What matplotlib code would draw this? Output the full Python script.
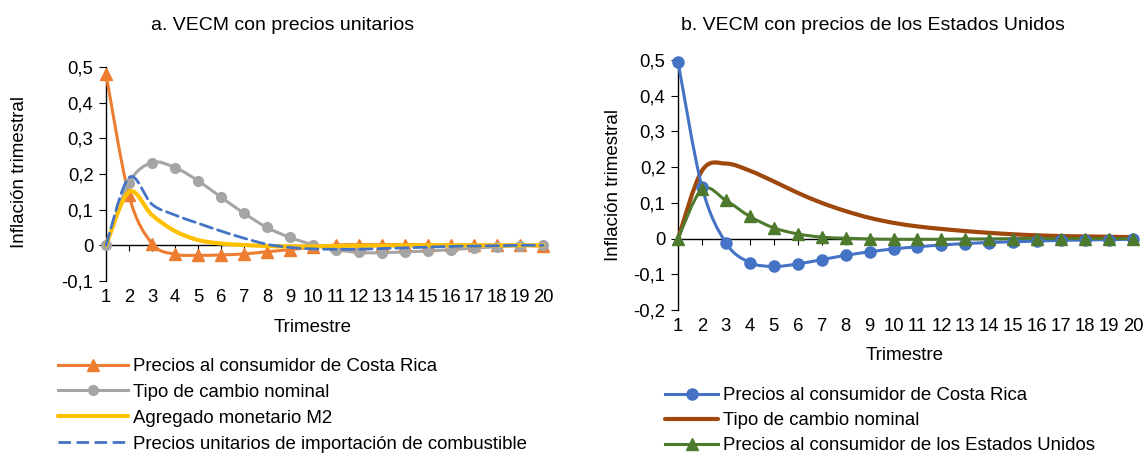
import numpy as np
import matplotlib
matplotlib.use("Agg")
import matplotlib.pyplot as plt
from matplotlib.path import Path
from matplotlib.patches import PathPatch
from matplotlib.lines import Line2D
from matplotlib.ticker import FuncFormatter

plt.rcParams['font.family'] = ['Liberation Sans', 'DejaVu Sans']

trimestres = list(range(1, 21))

# a. VECM con precios unitarios
a_precios_cr = [0.48, 0.14, 0.005, -0.025, -0.028, -0.027, -0.024, -0.018, -0.012, -0.005,
                0.001, 0.002, 0.002, 0.002, 0.002, 0.001, 0.001, 0.0, 0.0, -0.002]
a_tipo_cambio = [0.0, 0.175, 0.232, 0.218, 0.181, 0.135, 0.09, 0.05, 0.022, 0.002,
                 -0.012, -0.02, -0.021, -0.018, -0.016, -0.012, -0.008, -0.004, -0.001, 0.001]
a_m2 = [0.0, 0.15, 0.085, 0.04, 0.015, 0.005, 0.001, -0.002, -0.003, -0.003,
        -0.002, -0.001, -0.001, 0.0, 0.0, 0.0, 0.0, 0.0, 0.0, 0.0]
a_combustible = [0.0, 0.19, 0.115, 0.085, 0.062, 0.04, 0.02, 0.003, -0.006, -0.01,
                 -0.011, -0.011, -0.009, -0.007, -0.005, -0.003, -0.002, -0.001, 0.0, 0.0]

# b. VECM con precios de los Estados Unidos
b_precios_cr = [0.495, 0.145, -0.012, -0.067, -0.078, -0.071, -0.059, -0.047, -0.037, -0.029,
                -0.023, -0.018, -0.014, -0.011, -0.009, -0.007, -0.005, -0.004, -0.003, -0.002]
b_tipo_cambio = [0.0, 0.19, 0.21, 0.19, 0.16, 0.128, 0.1, 0.077, 0.058, 0.044,
                 0.034, 0.027, 0.021, 0.016, 0.012, 0.009, 0.007, 0.006, 0.005, 0.004]
b_precios_eu = [0.0, 0.138, 0.107, 0.062, 0.03, 0.013, 0.004, 0.001, -0.001, -0.002,
                -0.002, -0.002, -0.001, -0.001, 0.0, 0.0, 0.0, 0.0, 0.0, 0.0]

W, H = 1145, 453
FS_TICK = 13.3
FS_LAB = 13.5
FS_TIT = 14
FS_LEG = 13.4
DASH = (0, (4.5, 2.0))

fig = plt.figure(figsize=(W / 100, H / 100), dpi=100)


def box(x0, y0, x1, y1):
    return [x0 / W, 1 - y1 / H, (x1 - x0) / W, (y1 - y0) / H]


def smooth(ax, x, y, color, lw, ls='-', zorder=3):
    # curva suavizada estilo Excel (bezier cubica que pasa por los puntos)
    p = np.column_stack([x, y]).astype(float)
    n = len(p)
    verts = [p[0]]
    codes = [Path.MOVETO]
    for i in range(n - 1):
        p0 = p[i - 1] if i > 0 else p[i]
        p1, p2 = p[i], p[i + 1]
        p3 = p[i + 2] if i + 2 < n else p[i + 1]
        verts += [p1 + (p2 - p0) / 6, p2 - (p3 - p1) / 6, p2]
        codes += [Path.CURVE4] * 3
    patch = PathPatch(Path(verts, codes), fill=False, edgecolor=color, lw=lw,
                      linestyle=ls, capstyle='round', joinstyle='round', zorder=zorder,
                      clip_on=False)
    ax.add_patch(patch)


def comma(v, pos):
    if abs(v) < 1e-9:
        return '0'
    return ('%.1f' % v).replace('.', ',')


def style(ax, ymin, ymax):
    ax.set_xlim(1, 20)
    ax.set_ylim(ymin, ymax)
    ax.set_yticks(np.arange(ymin, ymax + 0.001, 0.1))
    ax.yaxis.set_major_formatter(FuncFormatter(comma))
    for s in ['top', 'right']:
        ax.spines[s].set_visible(False)
    ax.spines['left'].set_color('black')
    ax.spines['left'].set_linewidth(1.0)
    ax.spines['bottom'].set_position(('data', 0))
    ax.spines['bottom'].set_linewidth(1.0)
    ax.set_xticks(trimestres)
    ax.tick_params(axis='x', direction='out', length=4, labelbottom=False)
    ax.tick_params(axis='y', direction='out', length=5, labelsize=FS_TICK, pad=4)
    sec = ax.secondary_xaxis('bottom')
    sec.set_xticks(trimestres)
    sec.spines['bottom'].set_visible(False)
    sec.tick_params(length=0, labelsize=FS_TICK, pad=6)
    ax.patch.set_alpha(0)


# ----- panel a -----
ax1 = fig.add_axes(box(106, 67, 543, 281))
style(ax1, -0.1, 0.5)
smooth(ax1, trimestres, a_precios_cr, '#ED7D31', 2.2)
ax1.plot(trimestres, a_precios_cr, ls='none', marker='^', ms=8, color='#ED7D31', zorder=4, clip_on=False)
smooth(ax1, trimestres, a_tipo_cambio, '#A5A5A5', 2.2)
ax1.plot(trimestres, a_tipo_cambio, ls='none', marker='o', ms=7, color='#A5A5A5', zorder=4, clip_on=False)
smooth(ax1, trimestres, a_m2, '#FFC000', 3.0, zorder=5)
smooth(ax1, trimestres, a_combustible, '#4472C4', 2.0, ls=DASH, zorder=6)

# ----- panel b -----
ax2 = fig.add_axes(box(678, 60, 1133, 310))
style(ax2, -0.2, 0.5)
smooth(ax2, trimestres, b_tipo_cambio, '#9E480E', 3.0)
smooth(ax2, trimestres, b_precios_cr, '#4472C4', 2.2)
ax2.plot(trimestres, b_precios_cr, ls='none', marker='o', ms=8, color='#4472C4', zorder=4, clip_on=False)
smooth(ax2, trimestres, b_precios_eu, '#4E7A2E', 2.2)
ax2.plot(trimestres, b_precios_eu, ls='none', marker='^', ms=8, color='#4E7A2E', zorder=5, clip_on=False)

# titulos y etiquetas
fig.text(283 / W, 1 - 25 / H, 'a. VECM con precios unitarios', ha='center', va='center', fontsize=FS_TIT)
fig.text(873 / W, 1 - 25 / H, 'b. VECM con precios de los Estados Unidos', ha='center', va='center', fontsize=FS_TIT)
fig.text(313 / W, 1 - 328 / H, 'Trimestre', ha='center', va='center', fontsize=FS_LAB)
fig.text(905 / W, 1 - 356 / H, 'Trimestre', ha='center', va='center', fontsize=FS_LAB)
fig.text(20 / W, 1 - 172 / H, 'Inflación trimestral', rotation=90, ha='center', va='center', fontsize=FS_LAB)
fig.text(613 / W, 1 - 185 / H, 'Inflación trimestral', rotation=90, ha='center', va='center', fontsize=FS_LAB)

# leyendas
h1 = [Line2D([], [], color='#ED7D31', lw=2.2, marker='^', ms=8),
      Line2D([], [], color='#A5A5A5', lw=2.2, marker='o', ms=7),
      Line2D([], [], color='#FFC000', lw=3.0, solid_capstyle='round'),
      Line2D([], [], color='#4472C4', lw=2.0, ls=DASH)]
l1 = ['Precios al consumidor de Costa Rica', 'Tipo de cambio nominal',
      'Agregado monetario M2', 'Precios unitarios de importación de combustible']
fig.legend(h1, l1, loc='upper left', bbox_to_anchor=(58 / W, 1 - 358 / H), frameon=False,
           fontsize=FS_LEG, handlelength=3.76, handletextpad=0.27, labelspacing=0.48,
           borderaxespad=0, borderpad=0)

h2 = [Line2D([], [], color='#4472C4', lw=2.2, marker='o', ms=8),
      Line2D([], [], color='#9E480E', lw=3.0, solid_capstyle='round'),
      Line2D([], [], color='#4E7A2E', lw=2.2, marker='^', ms=8)]
l2 = ['Precios al consumidor de Costa Rica', 'Tipo de cambio nominal',
      'Precios al consumidor de los Estados Unidos']
fig.legend(h2, l2, loc='upper left', bbox_to_anchor=(665 / W, 1 - 387 / H), frameon=False,
           fontsize=FS_LEG, handlelength=2.85, handletextpad=0.27, labelspacing=0.44,
           borderaxespad=0, borderpad=0)

fig.savefig('out.png', dpi=100)
